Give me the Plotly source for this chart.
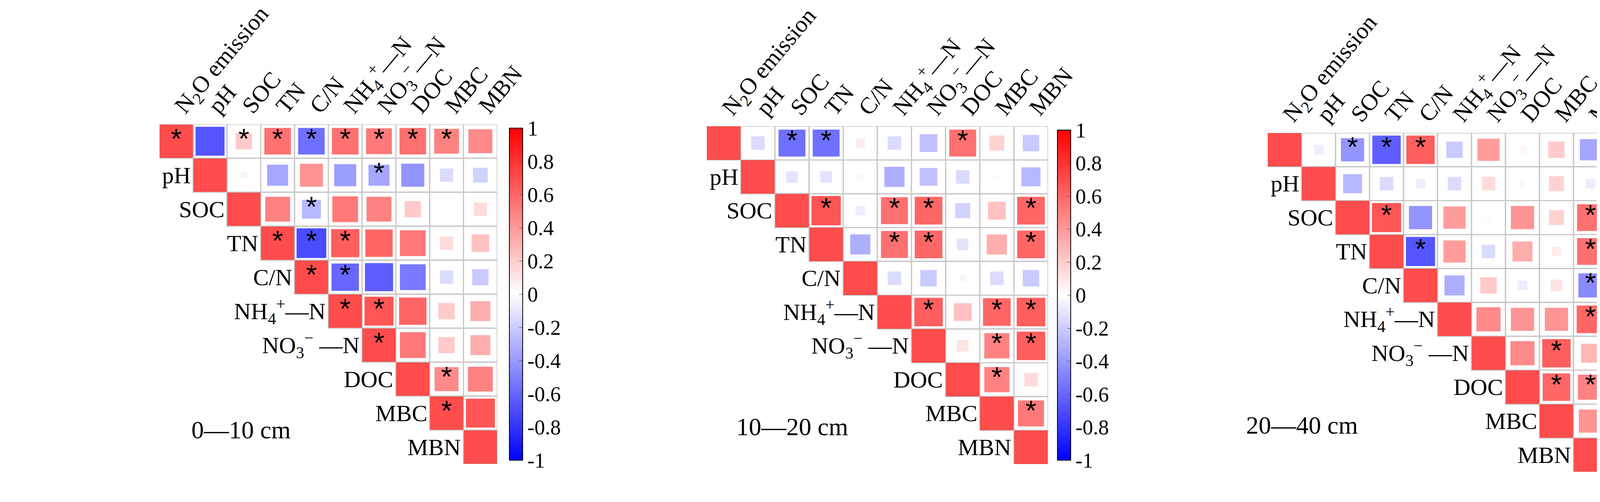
import plotly.graph_objects as go

W, H = 4278, 1285

labels = ['N<sub>2</sub>O emission', 'pH', 'SOC', 'TN', 'C/N', 'NH<sub>4</sub><sup>+</sup>—N',
          'NO<sub>3</sub><sup>−</sup>—N', 'DOC', 'MBC', 'MBN']
row_labels = ['N<sub>2</sub>O emission', 'pH', 'SOC', 'TN', 'C/N', 'NH<sub>4</sub><sup>+</sup>—N',
              'NO<sub>3</sub><sup>−</sup> —N', 'DOC', 'MBC', 'MBN']

# upper triangle rows (start at diagonal); 1 marks a significant cell
r_0_10 = [
    [1, -0.95, 0.3, 0.8, -0.8, 0.8, 0.75, 0.8, 0.7, 0.65],
    [1, -0.05, -0.5, 0.6, -0.55, -0.5, -0.6, -0.2, -0.25],
    [1, 0.7, -0.4, 0.75, 0.7, 0.3, 0.02, 0.2],
    [1, -1, 0.9, 0.85, 0.75, 0.2, 0.35],
    [1, -0.85, -0.9, -0.75, -0.2, -0.3],
    [1, 0.95, 0.85, 0.3, 0.45],
    [1, 0.75, 0.3, 0.45],
    [1, 0.65, 0.7],
    [1, 0.95],
    [1],
]
s_0_10 = [
    [1, 0, 1, 1, 1, 1, 1, 1, 1, 0],
    [0, 0, 0, 0, 0, 1, 0, 0, 0],
    [0, 0, 1, 0, 0, 0, 0, 0],
    [1, 1, 1, 0, 0, 0, 0],
    [1, 1, 0, 0, 0, 0],
    [1, 1, 0, 0, 0],
    [1, 0, 0, 0],
    [0, 1, 0],
    [1, 0],
    [0],
]
r_10_20 = [
    [1, -0.2, -0.8, -0.8, 0.1, -0.2, -0.35, 0.8, 0.25, -0.3],
    [1, -0.15, -0.15, 0.05, -0.45, -0.35, -0.2, 0.03, -0.4],
    [1, 0.95, -0.1, 0.8, 0.85, -0.25, 0.35, 0.85],
    [1, -0.45, 0.8, 0.85, -0.15, 0.45, 0.85],
    [1, -0.2, -0.3, -0.05, -0.2, -0.3],
    [1, 0.9, 0.35, 0.85, 0.9],
    [1, 0.15, 0.7, 0.9],
    [1, 0.7, 0.2],
    [1, 0.75],
    [1],
]
s_10_20 = [
    [0, 0, 1, 1, 0, 0, 0, 1, 0, 0],
    [0, 0, 0, 0, 0, 0, 0, 0, 0],
    [0, 1, 0, 1, 1, 0, 0, 1],
    [0, 0, 1, 1, 0, 0, 1],
    [0, 0, 0, 0, 0, 0],
    [0, 1, 0, 1, 1],
    [0, 0, 1, 1],
    [0, 1, 0],
    [0, 1],
    [0],
]
r_20_40 = [
    [1, -0.1, -0.6, -0.9, 0.9, -0.3, 0.55, 0.05, 0.3, -0.5],
    [1, -0.4, -0.2, -0.1, -0.2, 0.2, 0.05, 0.25, -0.1],
    [1, 0.95, -0.6, 0.55, 0.03, 0.6, 0.25, 0.8],
    [1, -0.95, 0.55, -0.2, 0.45, 0.1, 0.8],
    [1, -0.45, 0.3, -0.1, 0.15, -0.65],
    [1, 0.65, 0.6, 0.6, 0.85],
    [1, 0.65, 0.9, 0.4],
    [1, 0.85, 0.7],
    [1, 0.6],
    [1],
]
s_20_40 = [
    [0, 0, 1, 1, 1, 0, 0, 0, 0, 0],
    [0, 0, 0, 0, 0, 0, 0, 0, 0],
    [0, 1, 0, 0, 0, 0, 0, 1],
    [0, 1, 0, 0, 0, 0, 1],
    [0, 0, 0, 0, 0, 1],
    [0, 0, 0, 0, 1],
    [0, 0, 1, 0],
    [0, 1, 1],
    [0, 0],
    [0],
]
depths = ['0—10 cm', '10—20 cm', '20—40 cm']

# pixel boxes of each grid: x0, x1, y0(top), y1(bottom), colorbar x, depth label x,y
panels = [
    (400, 1265, 310, 1180, 1286, 480, 1130),
    (1801, 2675, 315, 1180, 2689, 2020, 1122),
    (3237, 4107, 332, 1200, 4118, 3470, 1118),
]

font = 'Liberation Serif'
cscale = [[0, 'rgb(0,0,255)'], [0.5, 'rgb(255,255,255)'], [1, 'rgb(255,0,0)']]
fig = go.Figure()
shapes, annos = [], []

for k, (R, S, depth, box) in enumerate(zip([r_0_10, r_10_20, r_20_40],
                                            [s_0_10, s_10_20, s_20_40], depths, panels)):
    x0, x1, y0, y1, cbx, lx, ly = box
    cell = (x1 - x0) / 10
    ax = '' if k == 0 else str(k + 1)
    xs, ys, vals, sizes, sx, sy = [], [], [], [], [], []
    for i, row in enumerate(R):
        for j, v in enumerate(row):
            c = i + j
            xs.append(c)
            ys.append(i)
            vals.append(v)
            sizes.append(cell * 0.98 if c == i else cell * 0.88 * abs(v) ** 0.5)
            if S[i][j]:
                sx.append(c)
                sy.append(i)
            shapes.append(dict(type='rect', xref='x' + ax, yref='y' + ax,
                               x0=c - 0.5, x1=c + 0.5, y0=i - 0.5, y1=i + 0.5,
                               line=dict(color='#c8c8c8', width=3), layer='below'))
        annos.append(dict(xref='x' + ax, yref='y' + ax, x=i - 0.55, y=i, text=row_labels[i],
                          showarrow=False, xanchor='right', yanchor='middle',
                          font=dict(family=font, size=60, color='black')))
    fig.add_trace(go.Scatter(
        x=xs, y=ys, mode='markers', xaxis='x' + ax, yaxis='y' + ax, showlegend=False,
        marker=dict(symbol='square', size=sizes, color=vals, cmin=-1, cmax=1, colorscale=cscale,
                    line=dict(width=0),
                    colorbar=dict(x=cbx / W, xanchor='left', y=1 - y0 / H, yanchor='top',
                                  len=(y1 - y0) / H, lenmode='fraction', thickness=34,
                                  outlinecolor='black', outlinewidth=2,
                                  tickvals=[1, 0.8, 0.6, 0.4, 0.2, 0, -0.2, -0.4, -0.6, -0.8, -1],
                                  ticktext=['1', '0.8', '0.6', '0.4', '0.2', '0', '-0.2', '-0.4',
                                            '-0.6', '-0.8', '-1'],
                                  ticks='inside', ticklen=10,
                                  tickfont=dict(family=font, size=54, color='black')))))
    fig.add_trace(go.Scatter(x=sx, y=sy, mode='text', text=['*'] * len(sx), xaxis='x' + ax,
                             yaxis='y' + ax, showlegend=False, textposition='middle center',
                             textfont=dict(family='Liberation Sans', size=72, color='black')))
    annos.append(dict(xref='paper', yref='paper', x=lx / W, y=1 - ly / H, text=depth,
                      showarrow=False, font=dict(family=font, size=64, color='black')))
    fig.layout['xaxis' + ax] = dict(domain=[x0 / W, x1 / W], range=[-0.5, 9.5], side='top',
                                    tickvals=list(range(10)), ticktext=labels, tickangle=-50,
                                    showgrid=False, zeroline=False, showline=False, ticks='',
                                    anchor='y' + ax,
                                    tickfont=dict(family=font, size=60, color='black'))
    fig.layout['yaxis' + ax] = dict(domain=[1 - y1 / H, 1 - y0 / H], range=[9.5, -0.5],
                                    showgrid=False, zeroline=False, showline=False,
                                    showticklabels=False, anchor='x' + ax)

fig.update_layout(width=W, height=H, margin=dict(l=0, r=0, t=0, b=0, autoexpand=False),
                  plot_bgcolor='white', paper_bgcolor='white', shapes=shapes, annotations=annos)
fig.write_html('out.html')
